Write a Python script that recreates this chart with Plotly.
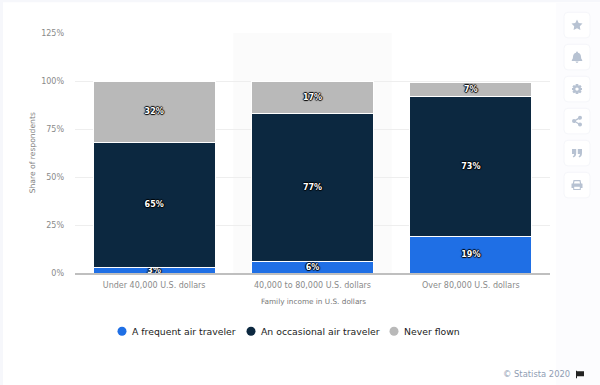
import plotly.graph_objects as go

categories = ["Under 40,000 U.S. dollars", "40,000 to 80,000 U.S. dollars", "Over 80,000 U.S. dollars"]
frequent = [3, 6, 19]
occasional = [65, 77, 73]
never = [32, 17, 7]
series_names = ["A frequent air traveler", "An occasional air traveler", "Never flown"]
series_colors = ["#1f6fe5", "#0c2840", "#b9b9b9"]
y_ticks = [0, 25, 50, 75, 100, 125]
y_labels = ["0%", "25%", "50%", "75%", "100%", "125%"]

W, H = 600, 385
L, R, T, B = 75, 550, 32.7, 272.7
FONT = "DejaVu Sans"
SHADOW = "1px 0 1px #000,-1px 0 1px #000,0 1px 1px #000,0 -1px 1px #000"


def px(x):
    return (x - L) / (R - L)


def py(y):
    return (B - y) / (B - T)


fig = go.Figure()
for name, color, vals in zip(series_names, series_colors, [frequent, occasional, never]):
    fig.add_bar(
        x=categories, y=vals, name=name, showlegend=False,
        marker=dict(color=color, line=dict(color="#ffffff", width=1)),
        text=[f"{v}%" for v in vals], textposition="inside", insidetextanchor="middle",
        textangle=0, constraintext="none",
        textfont=dict(family=FONT, size=8, weight="bold", color="#ffffff", shadow=SHADOW),
        cliponaxis=False,
    )

legend_ids = ["legend", "legend2", "legend3"]
legend_text_x = [132, 261, 404]
for name, color, lid in zip(series_names, series_colors, legend_ids):
    fig.add_scatter(
        x=[None], y=[None], mode="markers", name=name, legend=lid,
        marker=dict(color=color, size=9, symbol="circle"),
    )


def legend_cfg(text_x):
    return dict(orientation="h", xref="paper", yref="paper", x=px(text_x - 40), y=py(316.5),
                xanchor="left", yanchor="top", font=dict(family=FONT, size=9.3, color="#222222"),
                bgcolor="rgba(0,0,0,0)", itemclick=False, itemdoubleclick=False)


def rounded(w, h, r):
    """Rounded rectangle path around a centre, in pixels."""
    a, b = w / 2, h / 2
    return (f"M{-a + r},{-b} L{a - r},{-b} Q{a},{-b} {a},{-b + r} L{a},{b - r} Q{a},{b} {a - r},{b} "
            f"L{-a + r},{b} Q{-a},{b} {-a},{b - r} L{-a},{-b + r} Q{-a},{-b} {-a + r},{-b} Z")


shapes = [
    dict(type="rect", xref="paper", yref="paper", x0=px(3), x1=px(600), y0=py(385), y1=py(2),
         fillcolor="#ffffff", line_width=0, layer="below"),
    dict(type="rect", xref="paper", yref="paper", x0=px(556), x1=px(600), y0=py(385), y1=py(2),
         fillcolor="#fcfcfe", line_width=0, layer="below"),
    dict(type="rect", xref="x", yref="paper", x0=0.5, x1=1.5, y0=0, y1=1,
         fillcolor="#fbfbfb", line_width=0, layer="below"),
]

ICON = "#b7c2d2"
icon_paths = [
    # star
    "M0,5.5 L1.7,2 L5.5,1.5 L2.8,-1.2 L3.4,-5 L0,-3.2 L-3.4,-5 L-2.8,-1.2 L-5.5,1.5 L-1.7,2 Z",
    # bell
    "M0,5.5 Q1,5.5 1,4.4 Q4,3.5 4,0 Q4,-2 5.2,-3 L5.2,-3.8 L-5.2,-3.8 L-5.2,-3 Q-4,-2 -4,0 "
    "Q-4,3.5 -1,4.4 Q-1,5.5 0,5.5 Z M-1.6,-4.5 L1.6,-4.5 Q1,-5.8 0,-5.8 Q-1,-5.8 -1.6,-4.5 Z",
    # gear
    "M-1.2,5 L1.2,5 L1.6,3.4 L3.2,4.2 L4.6,2.6 L3.5,1.2 L5,1 L5,-1 L3.5,-1.2 L4.6,-2.6 L3.2,-4.2 "
    "L1.6,-3.4 L1.2,-5 L-1.2,-5 L-1.6,-3.4 L-3.2,-4.2 L-4.6,-2.6 L-3.5,-1.2 L-5,-1 L-5,1 L-3.5,1.2 "
    "L-4.6,2.6 L-3.2,4.2 L-1.6,3.4 Z M0,1.7 Q1.7,1.7 1.7,0 Q1.7,-1.7 0,-1.7 Q-1.7,-1.7 -1.7,0 Q-1.7,1.7 0,1.7 Z",
    # share
    "M5,3.4 Q5,5.4 3,5.4 Q1,5.4 1,3.4 L1,3 L-1.7,1.5 Q-2.2,2 -3,2 Q-5,2 -5,0 Q-5,-2 -3,-2 Q-2.2,-2 -1.7,-1.5 "
    "L1,-3 L1,-3.4 Q1,-5.4 3,-5.4 Q5,-5.4 5,-3.4 Q5,-1.4 3,-1.4 Q2.2,-1.4 1.7,-1.9 L-1,-0.4 L-1,0.4 L1.7,1.9 "
    "Q2.2,1.4 3,1.4 Q5,1.4 5,3.4 Z",
    # quote
    "M-5,4 L-0.8,4 L-0.8,0 Q-0.8,-3.5 -3.5,-4.5 L-4.3,-3.2 Q-2.8,-2.4 -2.8,-0.8 L-5,-0.8 Z "
    "M0.8,4 L5,4 L5,0 Q5,-3.5 2.3,-4.5 L1.5,-3.2 Q3,-2.4 3,-0.8 L0.8,-0.8 Z",
    # printer
    "M-3.5,5 L3.5,5 L4.2,1.5 L5.2,1.5 Q5.5,1.5 5.5,1 L5.5,-3 L3.8,-3 L3.8,-5 L-3.8,-5 L-3.8,-3 L-5.5,-3 L-5.5,1 "
    "Q-5.5,1.5 -5.2,1.5 L-4.2,1.5 Z M-2.5,3.8 L2.5,3.8 L3,1.5 L-3,1.5 Z M-2.8,-1.6 L2.8,-1.6 L2.8,-3.8 L-2.8,-3.8 Z",
]
for top, path in zip([12, 44, 76, 108, 140, 172], icon_paths):
    cy = top + 12.8
    shapes.append(dict(type="path", xsizemode="pixel", ysizemode="pixel", xref="paper", yref="paper",
                       xanchor=px(577), yanchor=py(cy), path=rounded(26, 25.6, 4),
                       fillcolor="#ffffff", line=dict(color="#f5f6fa", width=1), layer="below"))
    shapes.append(dict(type="path", xsizemode="pixel", ysizemode="pixel", xref="paper", yref="paper",
                       xanchor=px(577), yanchor=py(cy), path=path,
                       fillcolor=ICON, line_width=0, layer="above"))

# Statista flag
shapes.append(dict(type="path", xsizemode="pixel", ysizemode="pixel", xref="paper", yref="paper",
                   xanchor=px(580), yanchor=py(374),
                   path="M-4,3.5 L-3,3.5 L-3,3 L4,3 L4,-2 L-3,-2 L-3,-4 L-4,-4 Z",
                   fillcolor="#222222", line_width=0))

annotations = [
    dict(text="Family income in U.S. dollars", xref="paper", yref="paper", x=px(313), y=py(301.5),
         xanchor="center", yanchor="middle", showarrow=False, font=dict(family=FONT, size=7.3, color="#777777")),
    dict(text="Share of respondents", xref="paper", yref="paper", x=px(32), y=py(153), textangle=-90,
         xanchor="center", yanchor="middle", showarrow=False, font=dict(family=FONT, size=7.6, color="#808080")),
    dict(text="\u00a9 Statista 2020", xref="paper", yref="paper", x=px(572), y=py(374),
         xanchor="right", yanchor="middle", showarrow=False, font=dict(family=FONT, size=8.4, color="#8f9db3")),
]

fig.update_layout(
    width=W, height=H, barmode="stack", bargap=0.23,
    margin=dict(l=L, r=W - R, t=T, b=H - B, pad=0),
    paper_bgcolor="#f6f7fb", plot_bgcolor="rgba(0,0,0,0)",
    font=dict(family=FONT, size=8, color="#8a8a8a"),
    shapes=shapes, annotations=annotations,
    legend=legend_cfg(legend_text_x[0]),
    legend2=legend_cfg(legend_text_x[1]),
    legend3=legend_cfg(legend_text_x[2]),
    xaxis=dict(type="category", showgrid=False, ticks="", showline=True, linecolor="#bfbfbf", linewidth=2,
               tickfont=dict(family=FONT, size=8, color="#8a8a8a"), ticklabelstandoff=3),
    yaxis=dict(range=[0, 125], tickvals=y_ticks, ticktext=y_labels, gridcolor="#eeeeee", gridwidth=1,
               zeroline=False, ticks="", tickfont=dict(family=FONT, size=8, color="#8a8a8a"), ticklabelstandoff=10),
)
fig.write_html("out.html", config=dict(displayModeBar=False),
               post_script="document.body.style.margin='0';document.body.style.overflow='hidden';"
                           "document.querySelectorAll('.legendsymbols').forEach(function(e){e.setAttribute('transform','translate(10,0)');});")
